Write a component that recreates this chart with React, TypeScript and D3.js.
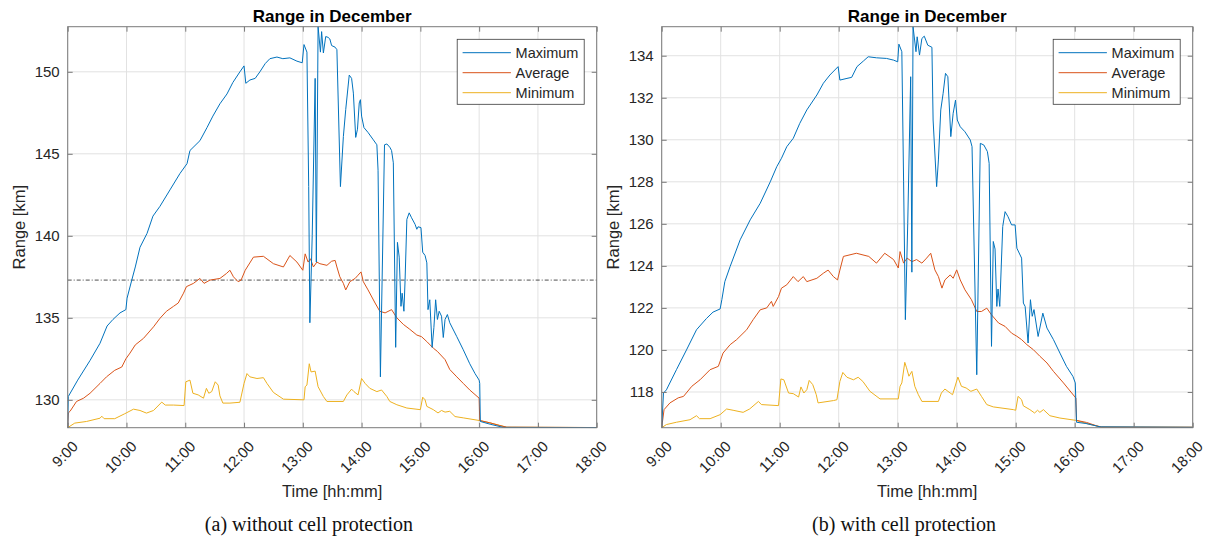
import React, { useEffect, useRef } from "react";
import * as d3 from "d3";

type Pt = [number, number];

const hourTicks = [9, 10, 11, 12, 13, 14, 15, 16, 17, 18];
const hourLabels = ["9:00", "10:00", "11:00", "12:00", "13:00", "14:00", "15:00", "16:00", "17:00", "18:00"];
const yTicksA = [130, 135, 140, 145, 150];
const yTicksB = [118, 120, 122, 124, 126, 128, 130, 132, 134];
const seriesNames = ["Maximum", "Average", "Minimum"];
const seriesColors = ["#0072BD", "#D95319", "#EDB120"];
const refLineA = 137.3;

// (a) without cell protection  [hour, km]
const maxA: Pt[] = [
	[9.0, 128.3], [9.01, 130.2], [9.17, 131.2], [9.38, 132.4], [9.55, 133.45], [9.67, 134.5], [9.77, 134.9],
	[9.89, 135.3], [9.99, 135.5], [10.01, 136.2], [10.09, 137.3], [10.15, 138.1], [10.23, 139.3], [10.35, 140.15],
	[10.45, 141.2], [10.57, 141.8], [10.74, 142.8], [10.91, 143.8], [11.03, 144.4], [11.08, 145.2], [11.25, 145.8],
	[11.37, 146.6], [11.47, 147.3], [11.59, 148.05], [11.71, 148.65], [11.81, 149.35], [11.93, 150.0], [12.0, 150.36],
	[12.03, 149.3], [12.1, 149.5], [12.19, 149.6], [12.27, 150.0], [12.36, 150.5], [12.44, 150.8], [12.56, 150.9],
	[12.66, 150.8], [12.78, 150.85], [12.9, 150.65], [12.99, 150.55], [13.02, 151.66], [13.07, 151.2], [13.1, 143],
	[13.12, 134.7], [13.16, 140], [13.21, 149.6], [13.23, 138.4], [13.26, 152.75], [13.3, 151.2], [13.32, 152.45],
	[13.35, 151.15], [13.39, 152.15], [13.43, 152.1], [13.46, 152.0], [13.49, 151.6], [13.55, 151.5], [13.58, 151.35],
	[13.64, 143.0], [13.69, 146.05], [13.73, 147.7], [13.79, 149.8], [13.83, 149.6], [13.86, 148.7], [13.9, 146.0],
	[13.93, 146.5], [13.96, 148.1], [13.98, 148.3], [14.0, 147.3], [14.04, 146.6], [14.11, 146.3], [14.2, 145.85],
	[14.26, 145.55], [14.28, 144.0], [14.32, 131.4], [14.39, 145.55], [14.43, 145.6], [14.48, 145.4], [14.51, 145.2],
	[14.54, 144.45], [14.58, 133.2], [14.61, 139.6], [14.64, 138.7], [14.67, 135.7], [14.69, 136.5], [14.72, 135.4],
	[14.74, 137.3], [14.77, 141.0], [14.81, 141.4], [14.85, 141.1], [14.91, 140.7], [14.94, 140.4], [14.96, 140.55],
	[15.01, 140.5], [15.04, 139.0], [15.08, 138.8], [15.11, 138.35], [15.13, 135.5], [15.16, 136.1], [15.2, 133.2],
	[15.23, 134.4], [15.26, 136.1], [15.29, 134.9], [15.32, 135.4], [15.36, 135.1], [15.39, 133.8], [15.42, 134.9],
	[15.46, 135.2], [15.5, 134.7], [15.62, 133.85], [15.73, 133.05], [15.84, 132.2], [15.93, 131.6], [16.0, 131.2],
	[16.01, 131.0], [16.02, 128.68], [16.2, 128.5], [16.41, 128.32], [18.0, 128.31],
];
const avgA: Pt[] = [
	[9.0, 128.3], [9.01, 129.2], [9.04, 129.3], [9.15, 129.9], [9.27, 130.1], [9.38, 130.4], [9.55, 131.0],
	[9.66, 131.4], [9.8, 131.8], [9.92, 132.0], [9.99, 132.5], [10.06, 132.85], [10.15, 133.35], [10.29, 133.75],
	[10.46, 134.45], [10.57, 134.97], [10.68, 135.4], [10.8, 135.7], [10.88, 135.9], [10.97, 136.5], [11.02, 136.9],
	[11.14, 137.1], [11.25, 137.4], [11.32, 137.1], [11.42, 137.3], [11.59, 137.4], [11.7, 137.7], [11.76, 137.9],
	[11.82, 137.5], [11.9, 137.2], [11.95, 137.3], [12.02, 137.9], [12.16, 138.7], [12.33, 138.75], [12.5, 138.3],
	[12.67, 138.1], [12.78, 138.8], [12.9, 138.4], [13.0, 137.9], [13.04, 138.9], [13.09, 138.4], [13.13, 138.6],
	[13.18, 138.1], [13.24, 138.4], [13.29, 138.3], [13.41, 138.2], [13.49, 138.45], [13.55, 138.5], [13.58, 138.1],
	[13.63, 137.5], [13.69, 137.1], [13.73, 136.7], [13.8, 137.2], [13.89, 137.4], [13.94, 137.6], [13.99, 137.8],
	[14.03, 137.2], [14.11, 136.7], [14.23, 135.9], [14.31, 135.4], [14.4, 135.3], [14.51, 135.5], [14.6, 135.0],
	[14.71, 134.6], [14.82, 134.3], [14.94, 133.95], [15.02, 133.85], [15.11, 133.55], [15.22, 133.15], [15.29, 132.95],
	[15.42, 132.45], [15.5, 131.85], [15.62, 131.4], [15.73, 131.0], [15.84, 130.6], [16.0, 130.1], [16.01, 128.74],
	[16.18, 128.6], [16.35, 128.43], [16.47, 128.33], [18.0, 128.31],
];
const minA: Pt[] = [
	[9.0, 128.3], [9.12, 128.58], [9.32, 128.68], [9.55, 128.88], [9.58, 129.0], [9.62, 128.85], [9.8, 128.85],
	[9.97, 129.15], [10.12, 129.43], [10.23, 129.35], [10.34, 129.19], [10.46, 129.35], [10.6, 129.86], [10.66, 129.68],
	[10.8, 129.68], [10.98, 129.65], [11.01, 131.1], [11.08, 131.2], [11.13, 130.4], [11.22, 130.3], [11.31, 130.1],
	[11.36, 130.7], [11.4, 130.4], [11.45, 130.5], [11.51, 131.1], [11.56, 130.9], [11.59, 130.24], [11.64, 129.8],
	[11.76, 129.8], [11.93, 129.85], [12.0, 131.0], [12.05, 131.6], [12.1, 131.4], [12.22, 131.3], [12.33, 131.35],
	[12.39, 131.0], [12.5, 130.45], [12.67, 130.04], [13.02, 130.0], [13.04, 130.8], [13.07, 130.9], [13.11, 132.2],
	[13.14, 131.7], [13.21, 131.75], [13.26, 130.8], [13.35, 130.2], [13.41, 129.9], [13.69, 129.9], [13.75, 130.3],
	[13.83, 130.65], [13.87, 130.5], [13.94, 130.3], [14.0, 131.3], [14.06, 131.0], [14.14, 130.7], [14.26, 130.5],
	[14.34, 130.6], [14.43, 130.2], [14.48, 129.9], [14.6, 129.7], [14.77, 129.5], [15.0, 129.4], [15.04, 130.16],
	[15.08, 130.0], [15.11, 129.6], [15.22, 129.4], [15.3, 129.2], [15.36, 129.35], [15.42, 129.25], [15.5, 129.3],
	[15.59, 128.98], [15.73, 128.9], [16.0, 128.74], [16.18, 128.6], [16.47, 128.33], [18.0, 128.31],
];

// (b) with cell protection
const maxB: Pt[] = [
	[9.0, 116.3], [9.03, 117.95], [9.08, 118.1], [9.25, 119.06], [9.42, 120.0], [9.59, 120.96], [9.76, 121.5],
	[9.87, 121.8], [9.99, 121.95], [10.02, 122.4], [10.07, 123.25], [10.16, 123.97], [10.33, 125.24], [10.5, 126.19],
	[10.67, 126.98], [10.84, 128.0], [10.95, 128.72], [11.03, 129.12], [11.12, 129.67], [11.23, 130.07], [11.34, 130.78],
	[11.46, 131.42], [11.63, 132.13], [11.74, 132.69], [11.85, 133.08], [11.99, 133.48], [12.02, 132.84], [12.14, 132.92],
	[12.22, 132.97], [12.31, 133.48], [12.42, 133.75], [12.5, 133.95], [12.64, 133.9], [12.81, 133.87], [12.93, 133.79],
	[13.0, 133.71], [13.02, 134.55], [13.07, 134.19], [13.1, 128], [13.13, 121.44], [13.17, 126], [13.22, 133.0],
	[13.24, 123.7], [13.26, 135.38], [13.31, 134.19], [13.33, 134.9], [13.37, 134.03], [13.41, 134.82], [13.45, 134.93],
	[13.51, 134.5], [13.58, 134.4], [13.6, 130.94], [13.66, 127.77], [13.69, 129.04], [13.73, 131.42], [13.77, 132.21],
	[13.81, 133.16], [13.85, 133.0], [13.9, 130.15], [13.94, 131.26], [13.98, 131.89], [14.01, 130.94], [14.06, 130.62],
	[14.14, 130.38], [14.23, 129.99], [14.26, 129.67], [14.34, 118.82], [14.4, 129.83], [14.46, 129.75], [14.52, 129.44],
	[14.55, 128.88], [14.59, 120.17], [14.62, 125.16], [14.65, 124.8], [14.68, 122.07], [14.7, 122.9], [14.73, 122.07],
	[14.78, 125.87], [14.82, 126.58], [14.87, 126.34], [14.93, 125.95], [14.99, 125.95], [15.02, 124.84], [15.1, 124.37],
	[15.13, 122.23], [15.16, 122.07], [15.21, 120.33], [15.25, 122.39], [15.28, 121.6], [15.31, 121.92], [15.38, 120.64],
	[15.46, 121.75], [15.53, 121.04], [15.64, 120.49], [15.75, 119.85], [15.86, 119.22], [15.97, 118.74], [16.01, 118.43],
	[16.03, 116.56], [16.19, 116.5], [16.43, 116.34], [18.0, 116.32],
];
const avgB: Pt[] = [
	[9.0, 116.3], [9.04, 117.16], [9.14, 117.48], [9.28, 117.72], [9.37, 117.79], [9.51, 118.27], [9.65, 118.58],
	[9.82, 119.06], [9.96, 119.22], [10.04, 119.85], [10.16, 120.25], [10.27, 120.49], [10.44, 120.96], [10.55, 121.44],
	[10.67, 121.91], [10.78, 122.0], [10.86, 122.31], [10.89, 122.07], [10.98, 122.54], [11.03, 122.94], [11.12, 123.1],
	[11.23, 123.49], [11.31, 123.25], [11.4, 123.49], [11.46, 123.25], [11.63, 123.41], [11.74, 123.65], [11.82, 123.8],
	[11.91, 123.49], [11.98, 123.33], [12.02, 123.8], [12.08, 124.45], [12.3, 124.6], [12.51, 124.45], [12.64, 124.13],
	[12.78, 124.6], [12.93, 124.3], [13.01, 123.9], [13.04, 124.68], [13.1, 124.13], [13.16, 124.37], [13.24, 124.2],
	[13.32, 124.3], [13.41, 124.13], [13.49, 124.37], [13.56, 124.6], [13.63, 123.81], [13.69, 123.49], [13.75, 122.94],
	[13.8, 123.33], [13.89, 123.57], [13.94, 123.41], [14.0, 123.81], [14.06, 123.33], [14.14, 122.86], [14.25, 122.39],
	[14.34, 121.83], [14.42, 121.83], [14.51, 121.99], [14.59, 121.67], [14.71, 121.28], [14.82, 121.12], [14.93, 120.8],
	[15.02, 120.65], [15.1, 120.49], [15.19, 120.25], [15.3, 120.01], [15.41, 119.7], [15.53, 119.38], [15.64, 118.98],
	[15.81, 118.43], [16.02, 117.71], [16.03, 116.65], [16.2, 116.55], [16.36, 116.4], [16.45, 116.33], [18.0, 116.32],
];
const minB: Pt[] = [
	[9.0, 116.3], [9.08, 116.45], [9.25, 116.56], [9.48, 116.68], [9.59, 116.87], [9.64, 116.73], [9.82, 116.73],
	[9.99, 116.92], [10.1, 117.19], [10.21, 117.13], [10.38, 117.03], [10.49, 117.19], [10.64, 117.55], [10.69, 117.4],
	[10.98, 117.35], [11.02, 118.62], [11.07, 118.58], [11.15, 117.95], [11.23, 117.92], [11.32, 117.76], [11.36, 118.24],
	[11.41, 117.95], [11.46, 118.11], [11.5, 118.55], [11.56, 118.35], [11.62, 117.87], [11.65, 117.48], [11.91, 117.59],
	[11.97, 117.63], [12.02, 118.5], [12.07, 118.93], [12.14, 118.7], [12.25, 118.58], [12.33, 118.7], [12.41, 118.5],
	[12.53, 118.03], [12.7, 117.67], [13.01, 117.67], [13.04, 118.27], [13.07, 118.43], [13.12, 119.41], [13.15, 119.15],
	[13.19, 118.75], [13.24, 118.98], [13.29, 118.27], [13.35, 117.87], [13.41, 117.55], [13.69, 117.55], [13.74, 117.95],
	[13.8, 118.14], [13.89, 117.95], [13.93, 117.87], [14.02, 118.71], [14.08, 118.27], [14.16, 118.19], [14.24, 118.03],
	[14.34, 118.14], [14.42, 117.79], [14.51, 117.4], [14.62, 117.29], [14.96, 117.16], [15.0, 117.13], [15.04, 117.79],
	[15.1, 117.63], [15.13, 117.34], [15.24, 117.16], [15.32, 117.0], [15.37, 117.13], [15.41, 117.03], [15.47, 117.16],
	[15.58, 116.87], [15.75, 116.76], [16.02, 116.65], [16.2, 116.5], [16.45, 116.33], [18.0, 116.32],
];

const FONT = "'Liberation Sans', Arial, Helvetica, sans-serif";
const AXIS_COLOR = "#7a7a7a";
const TEXT_COLOR = "#262626";

type PanelOpts = {
	id: string;
	left: number;
	right: number;
	top: number;
	bottom: number;
	series: Pt[][];
	yTicks: number[];
	caption: string;
	captionX: number;
	refLine?: number;
};

function drawPanel(svg: d3.Selection<SVGSVGElement, unknown, null, undefined>, o: PanelOpts) {
	const all = o.series.flat();
	const x = d3.scaleLinear().domain([9, 18]).range([o.left, o.right]);
	const y = d3
		.scaleLinear()
		.domain(d3.extent(all, (d) => d[1]) as [number, number])
		.range([o.bottom, o.top]);
	const g = svg.append("g");

	// grid
	g.append("g")
		.selectAll("line")
		.data(hourTicks)
		.enter()
		.append("line")
		.attr("x1", (d) => x(d))
		.attr("x2", (d) => x(d))
		.attr("y1", o.top)
		.attr("y2", o.bottom)
		.attr("stroke", "#e2e2e2");
	g.append("g")
		.selectAll("line")
		.data(o.yTicks)
		.enter()
		.append("line")
		.attr("x1", o.left)
		.attr("x2", o.right)
		.attr("y1", (d) => y(d))
		.attr("y2", (d) => y(d))
		.attr("stroke", "#e2e2e2");

	svg.append("defs")
		.append("clipPath")
		.attr("id", "clip-" + o.id)
		.append("rect")
		.attr("x", o.left)
		.attr("y", o.top - 1)
		.attr("width", o.right - o.left)
		.attr("height", o.bottom - o.top + 2);

	const line = d3
		.line<Pt>()
		.x((d) => x(d[0]))
		.y((d) => y(d[1]));

	const plot = g.append("g").attr("clip-path", `url(#clip-${o.id})`);

	if (o.refLine !== undefined) {
		plot.append("line")
			.attr("x1", o.left)
			.attr("x2", o.right)
			.attr("y1", y(o.refLine))
			.attr("y2", y(o.refLine))
			.attr("stroke", "#222")
			.attr("stroke-width", 0.8)
			.attr("stroke-dasharray", "4,2,1,2");
	}

	// draw minimum first so maximum ends on top
	[2, 1, 0].forEach((i) => {
		plot.append("path")
			.datum(o.series[i])
			.attr("d", line)
			.attr("fill", "none")
			.attr("stroke", seriesColors[i])
			.attr("stroke-width", 1)
			.attr("stroke-linejoin", "round");
	});

	// axes with inward ticks on all four sides
	const gy = g
		.append("g")
		.attr("transform", `translate(${o.left},0)`)
		.call(d3.axisLeft(y).tickValues(o.yTicks).tickSize(-5).tickPadding(8).tickFormat(d3.format("d")));
	gy.select(".domain").remove();
	gy.attr("font-size", 15).attr("font-family", FONT).attr("color", AXIS_COLOR);
	gy.selectAll("text").attr("fill", TEXT_COLOR);

	const gr = g
		.append("g")
		.attr("transform", `translate(${o.right},0)`)
		.call(d3.axisRight(y).tickValues(o.yTicks).tickSize(-5).tickFormat(() => ""));
	gr.select(".domain").remove();
	gr.attr("color", AXIS_COLOR);

	const gt = g
		.append("g")
		.attr("transform", `translate(0,${o.top})`)
		.call(d3.axisTop(x).tickValues(hourTicks).tickSize(-5).tickFormat(() => ""));
	gt.select(".domain").remove();
	gt.attr("color", AXIS_COLOR);

	const gx = g
		.append("g")
		.attr("transform", `translate(0,${o.bottom})`)
		.call(
			d3
				.axisBottom(x)
				.tickValues(hourTicks)
				.tickSize(-5)
				.tickFormat((d, i) => hourLabels[i])
		);
	gx.select(".domain").remove();
	gx.attr("font-size", 15).attr("font-family", FONT).attr("color", AXIS_COLOR);
	gx.selectAll("text")
		.attr("fill", TEXT_COLOR)
		.attr("x", 0)
		.attr("y", 0)
		.attr("dy", "0.35em")
		.attr("text-anchor", "end")
		.attr("transform", "translate(7,16) rotate(-45)");

	g.append("rect")
		.attr("x", o.left)
		.attr("y", o.top)
		.attr("width", o.right - o.left)
		.attr("height", o.bottom - o.top)
		.attr("fill", "none")
		.attr("stroke", AXIS_COLOR)
		.attr("stroke-width", 1);

	const cx = (o.left + o.right) / 2;
	g.append("text")
		.attr("x", cx)
		.attr("y", 22)
		.attr("text-anchor", "middle")
		.attr("font-family", FONT)
		.attr("font-weight", "bold")
		.attr("font-size", 17)
		.attr("fill", "#000")
		.text("Range in December");

	g.append("text")
		.attr("transform", `translate(${o.left - 43},${(o.top + o.bottom) / 2}) rotate(-90)`)
		.attr("text-anchor", "middle")
		.attr("font-family", FONT)
		.attr("font-size", 16.5)
		.attr("fill", TEXT_COLOR)
		.text("Range [km]");

	g.append("text")
		.attr("x", cx)
		.attr("y", 497)
		.attr("text-anchor", "middle")
		.attr("font-family", FONT)
		.attr("font-size", 16.5)
		.attr("fill", TEXT_COLOR)
		.text("Time [hh:mm]");

	g.append("text")
		.attr("x", o.captionX)
		.attr("y", 531)
		.attr("text-anchor", "middle")
		.attr("font-family", "'Liberation Serif', 'Times New Roman', serif")
		.attr("font-size", 20)
		.attr("fill", "#111")
		.text(o.caption);

	// legend
	const lw = 127;
	const lh = 65;
	const lx = o.right - 12.5 - lw;
	const ly = o.top + 12.6;
	const leg = g.append("g").attr("transform", `translate(${lx},${ly})`);
	leg.append("rect")
		.attr("width", lw)
		.attr("height", lh)
		.attr("fill", "#fff")
		.attr("stroke", "#3a3a3a")
		.attr("stroke-width", 0.8);
	seriesNames.forEach((name, i) => {
		const ry = 13.4 + i * 20;
		leg.append("line")
			.attr("x1", 5.4)
			.attr("x2", 53.7)
			.attr("y1", ry)
			.attr("y2", ry)
			.attr("stroke", seriesColors[i])
			.attr("stroke-width", 1);
		leg.append("text")
			.attr("x", 58.4)
			.attr("y", ry)
			.attr("dy", "0.35em")
			.attr("font-family", FONT)
			.attr("font-size", 14.5)
			.attr("fill", TEXT_COLOR)
			.text(name);
	});
}

const App: React.FC = () => {
	const ref = useRef<SVGSVGElement | null>(null);

	useEffect(() => {
		if (!ref.current) return;
		const svg = d3.select(ref.current);
		drawPanel(svg, {
			id: "a",
			left: 67.7,
			right: 596.7,
			top: 26.7,
			bottom: 427.7,
			series: [maxA, avgA, minA],
			yTicks: yTicksA,
			caption: "(a) without cell protection",
			captionX: 309,
			refLine: refLineA,
		});
		drawPanel(svg, {
			id: "b",
			left: 661.7,
			right: 1192.7,
			top: 26.7,
			bottom: 427.7,
			series: [maxB, avgB, minB],
			yTicks: yTicksB,
			caption: "(b) with cell protection",
			captionX: 904,
		});
		return () => {
			svg.selectAll("*").remove();
		};
	}, []);

	return (
		<svg
			ref={ref}
			width={1210}
			height={539}
			style={{ position: "absolute", left: 0, top: 0, background: "#fff" }}
		/>
	);
};

export default App;
